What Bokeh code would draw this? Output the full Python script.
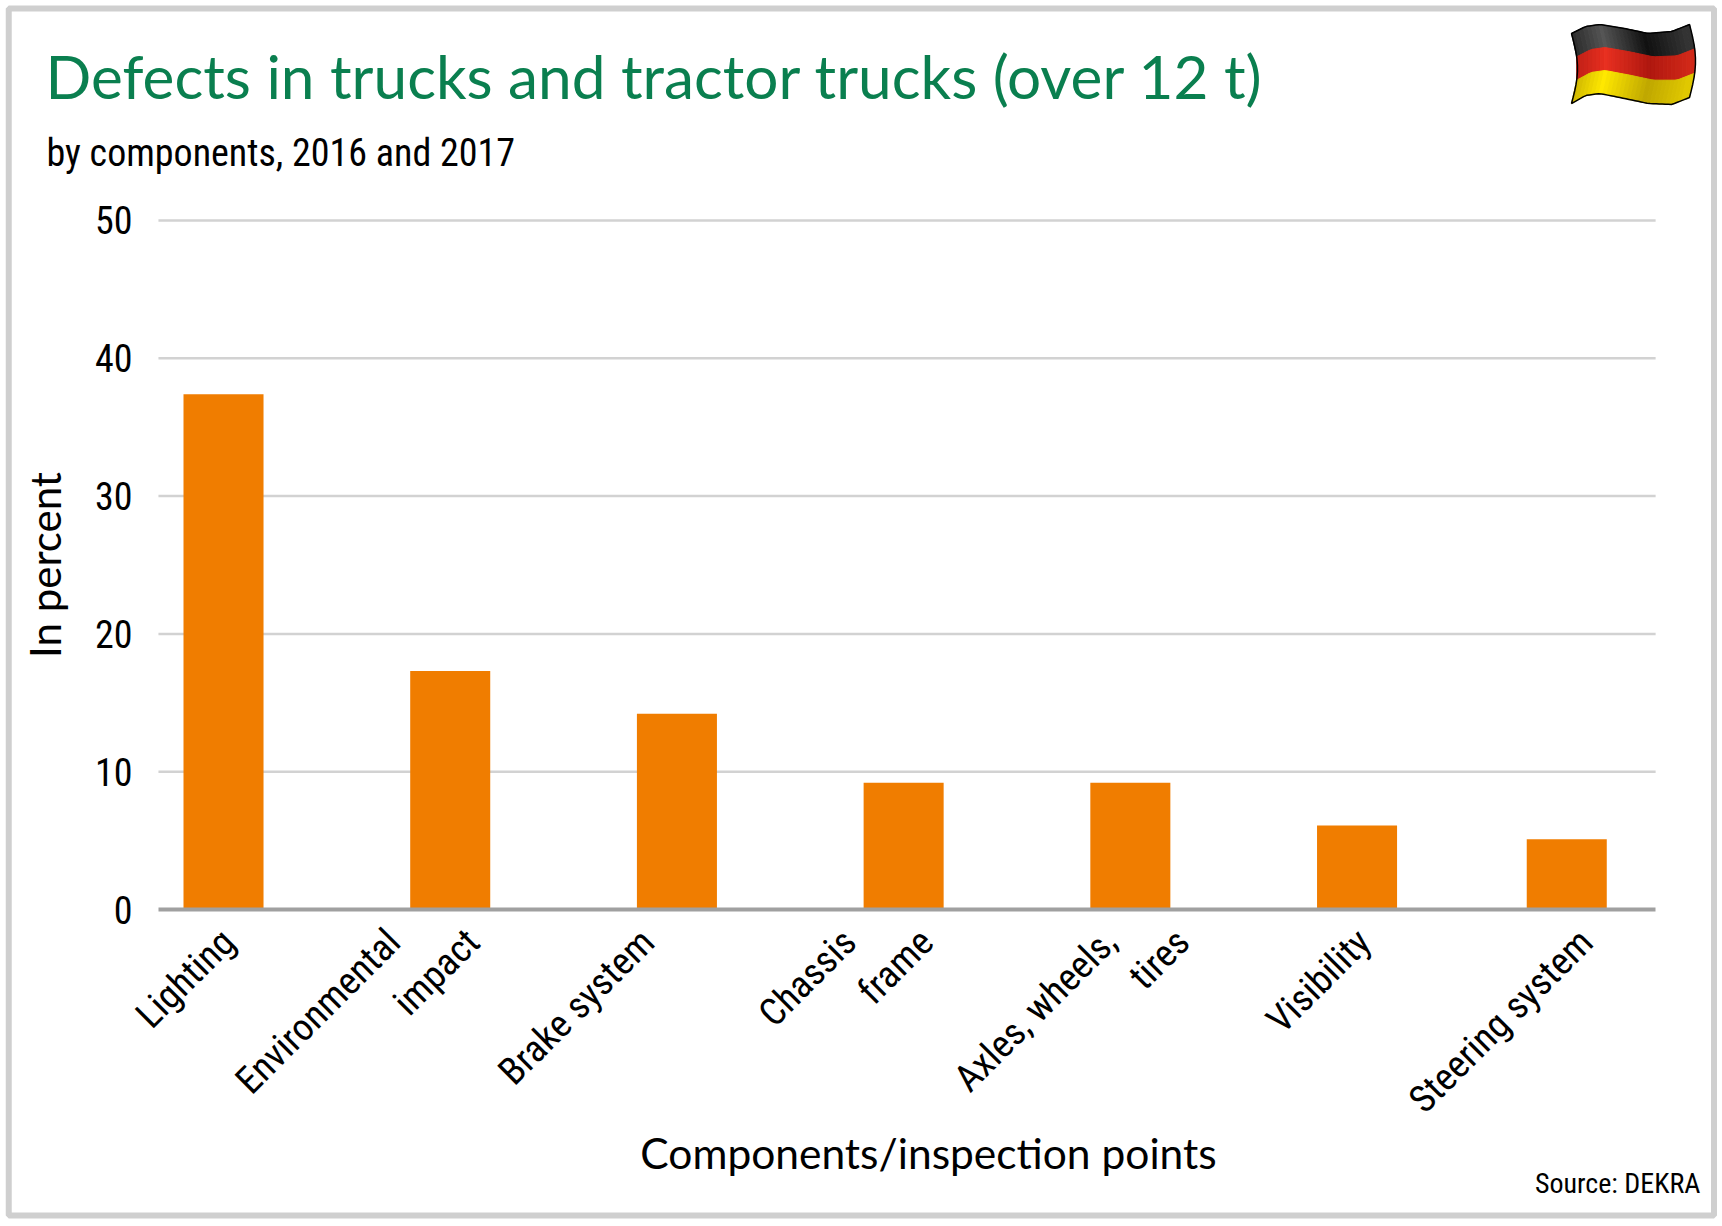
from bokeh.plotting import figure
from bokeh.models import BoxAnnotation, FixedTicker, Label, PolyAnnotation, Range1d
from bokeh.embed import file_html
from bokeh.resources import INLINE
import numpy as np

# Defects by component
components = ['Lighting', 'Environmental impact', 'Brake system', 'Chassis frame',
              'Axles, wheels, tires', 'Visibility', 'Steering system']
percent = [37.4, 17.3, 14.2, 9.2, 9.2, 6.1, 5.1]
# the last bar sits a bit closer to its neighbour
slots = [0, 1, 2, 3, 4, 5, 5.925]

# the source splits the long labels in two separately placed pieces
label_texts = ['Lighting', 'Environmental', 'impact', 'Brake system', 'Chassis', 'frame',
               'Axles, wheels,', 'tires', 'Visibility', 'Steering system']
label_ticks = [0.02, 0.75, 1.10, 1.87, 2.76, 3.10, 3.91, 4.23, 5.03, 6.01]
y_ticks = [0, 10, 20, 30, 40, 50]

NARROW = 'Roboto Condensed'
WIDE = 'Lato'
W, H = 1722, 1226
# the plot frame fills the page (annotations get clipped to it), the axes sit inside it
LEFT, RIGHT = -0.287, 6.317

p = figure(width=W, height=H, output_backend='svg', toolbar_location=None,
           x_range=Range1d(-0.9837, 6.612), y_range=Range1d(-23.004, 65.965), min_border=0)
p.outline_line_color = None
p.grid.visible = False

p.segment(x0=LEFT, x1=RIGHT, y0=y_ticks[1:], y1=y_ticks[1:], line_color='#d2d2d2', line_width=2.5, level='underlay')
p.vbar(x=slots, top=percent, width=0.353, fill_color='#f07d00', line_color=None)

p.yaxis.fixed_location = LEFT
p.yaxis.bounds = (0, 50)
p.yaxis.ticker = FixedTicker(ticks=y_ticks)
p.yaxis.axis_line_color = None
p.yaxis.major_tick_line_color = None
p.yaxis.minor_tick_line_color = None
p.yaxis.major_label_text_font = NARROW
p.yaxis.major_label_text_font_size = '38px'
p.yaxis.major_label_text_color = 'black'
p.yaxis.major_label_standoff = 20
p.yaxis.axis_label = 'In percent'
p.yaxis.axis_label_text_font = WIDE
p.yaxis.axis_label_text_font_style = 'normal'
p.yaxis.axis_label_text_font_size = '42px'
p.yaxis.axis_label_text_color = 'black'
p.yaxis.axis_label_standoff = 22

p.xaxis.fixed_location = 0
p.xaxis.bounds = (LEFT, RIGHT)
p.xaxis.ticker = FixedTicker(ticks=label_ticks)
p.xaxis.major_label_overrides = dict(zip(label_ticks, label_texts))
p.xaxis.major_label_orientation = np.pi / 4
p.xaxis.major_label_text_font = NARROW
p.xaxis.major_label_text_font_size = '38px'
p.xaxis.major_label_text_color = 'black'
p.xaxis.major_label_standoff = 20
p.xaxis.axis_line_color = '#a0a0a0'
p.xaxis.axis_line_width = 4
p.xaxis.major_tick_line_color = None
p.xaxis.minor_tick_line_color = None

# grey frame round the whole graphic
p.add_layout(BoxAnnotation(left=8.25, right=1713.5, top=H - 8, bottom=H - 1215,
                           left_units='screen', right_units='screen', top_units='screen', bottom_units='screen',
                           fill_color=None, line_color='#cfcfcf', line_alpha=1, line_width=6))

def page_label(x, y, text, font, size, color='black', align='left'):
    p.add_layout(Label(x=x, y=H - y, x_units='screen', y_units='screen', text=text, text_font=font,
                       text_font_size=size, text_color=color, text_align=align, text_baseline='alphabetic'))

page_label(45, 75, 'Defects in trucks and tractor trucks (over 12 t)', WIDE, '60.3px', '#0a7f4f')
page_label(46, 152, 'by components, 2016 and 2017', NARROW, '38px')
page_label(928, 1152, 'Components/inspection points', WIDE, '42.5px', align='center')
page_label(1700, 1183, 'Source: DEKRA', NARROW, '28px', align='right')

# waving flag in the corner
knots_u = [0, 0.12, 0.24, 0.45, 0.65, 0.85, 1]
top_edge = [33, 26, 24, 28, 33, 31, 24]
bottom_edge = [103, 95, 93, 98, 103, 104, 97]
shade_u = [0, 0.25, 0.62, 0.95]
stripes = [[(44, 44, 44), (85, 85, 85), (17, 17, 17), (51, 51, 51)],
           [(192, 32, 24), (232, 48, 32), (176, 24, 16), (208, 40, 24)],
           [(208, 184, 0), (255, 232, 0), (192, 168, 0), (224, 200, 0)]]

def flag_xy(u, v):
    x = 1571 + 118 * u + 6 * np.sin(np.pi * v)
    y0, y1 = np.interp(u, knots_u, top_edge), np.interp(u, knots_u, bottom_edge)
    return float(x), H - float(y0 + (y1 - y0) * v)

def flag_patch(pts, **kw):
    p.add_layout(PolyAnnotation(xs=[a for a, b in pts], ys=[b for a, b in pts],
                                xs_units='screen', ys_units='screen', line_alpha=1, **kw))

n = 30
for s, shades in enumerate(stripes):
    for i in range(n):
        u0, u1 = i / n, (i + 1) / n
        rgb = [int(np.interp((u0 + u1) / 2, shade_u, [c[k] for c in shades])) for k in range(3)]
        col = '#%02x%02x%02x' % tuple(rgb)
        flag_patch([flag_xy(u0, s / 3), flag_xy(u1, s / 3), flag_xy(u1, (s + 1) / 3), flag_xy(u0, (s + 1) / 3)],
                   fill_color=col, fill_alpha=1, line_color=col, line_width=1)

us = np.linspace(0, 1, 40)
vs = np.linspace(0, 1, 12)
flag_patch([flag_xy(u, 0) for u in us] + [flag_xy(1, v) for v in vs] + [flag_xy(u, 1) for u in us[::-1]] + [flag_xy(0, v) for v in vs[::-1]],
           fill_color=None, line_color='black', line_width=1.5)

open('out.html', 'w').write(file_html(p, INLINE))
